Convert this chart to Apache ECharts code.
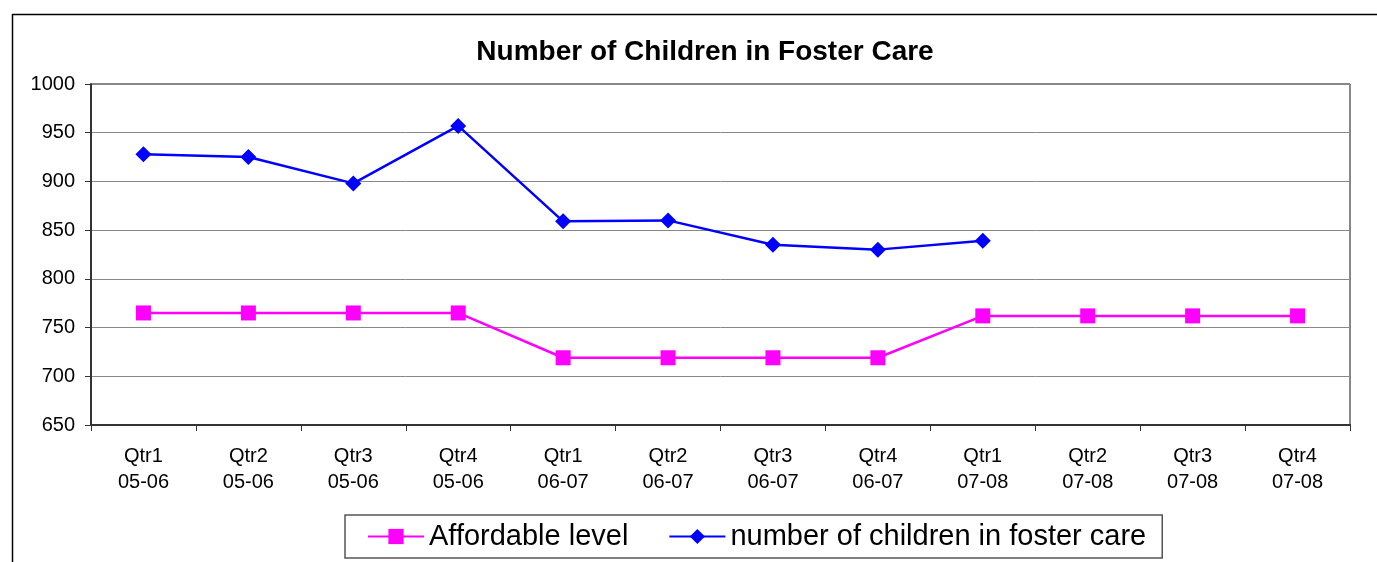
<!DOCTYPE html>
<html><head><meta charset="utf-8">
<script src="https://cdn.jsdelivr.net/npm/echarts@6/dist/echarts.min.js"></script>
<style>html,body{margin:0;padding:0;background:#fff}#c{width:1377px;height:562px}</style>
</head><body><div id="c"></div>
<script>
var categories = ['Qtr1\n05-06','Qtr2\n05-06','Qtr3\n05-06','Qtr4\n05-06','Qtr1\n06-07','Qtr2\n06-07','Qtr3\n06-07','Qtr4\n06-07','Qtr1\n07-08','Qtr2\n07-08','Qtr3\n07-08','Qtr4\n07-08'];
var affordable = [765,765,765,765,719,719,719,719,762,762,762,762];
var fosterCare = [928,925,898,957,859,860,835,830,839,null,null,null];
var chart = echarts.init(document.getElementById('c'));
var F = 'Liberation Sans, Arial, sans-serif';
chart.setOption({
  animation:false,
  textStyle:{fontFamily:F},
  title:{text:'Number of Children in Foster Care',left:700,textAlign:'center',top:33,
    textStyle:{fontFamily:F,fontSize:28,fontWeight:'bold',color:'#000'}},
  graphic:[
    {type:'line',shape:{x1:12,y1:14.5,x2:1377,y2:14.5},style:{stroke:'#000',lineWidth:1.5}},
    {type:'line',shape:{x1:12.5,y1:14,x2:12.5,y2:562},style:{stroke:'#000',lineWidth:1.5}},
    {type:'line',shape:{x1:91,y1:84,x2:1350,y2:84},style:{stroke:'#888',lineWidth:2}},
    {type:'line',shape:{x1:1350,y1:84,x2:1350,y2:425},style:{stroke:'#888',lineWidth:2}}
  ],
  grid:{left:91,top:84,right:27,bottom:137,containLabel:false},
  legend:{left:345,top:515,itemGap:40,padding:[7,16,7,22],
    borderColor:'#555',borderWidth:1.5,itemWidth:56,itemHeight:19,
    textStyle:{fontFamily:F,fontSize:29,color:'#000'},
    data:['Affordable level','number of children in foster care']},
  xAxis:{type:'category',data:categories,boundaryGap:true,
    axisLine:{lineStyle:{color:'#333',width:2}},
    axisTick:{show:true,length:6,lineStyle:{color:'#333',width:1}},
    axisLabel:{color:'#000',fontSize:20,fontFamily:F,margin:18,lineHeight:26,interval:0},
    splitLine:{show:false}},
  yAxis:{type:'value',min:650,max:1000,interval:50,
    axisLine:{show:true,lineStyle:{color:'#333',width:2}},
    axisTick:{show:true,length:6,lineStyle:{color:'#333'}},
    axisLabel:{color:'#000',fontSize:20,fontFamily:F,margin:16,formatter:function(v){return String(v);}},
    splitLine:{lineStyle:{color:'#888',width:1}}},
  series:[
    {name:'Affordable level',type:'line',data:affordable,symbol:'rect',symbolSize:15,
      itemStyle:{color:'#ff00ff'},lineStyle:{color:'#ff00ff',width:2.5}},
    {name:'number of children in foster care',type:'line',data:fosterCare,symbol:'diamond',symbolSize:16,
      itemStyle:{color:'#0000ff'},lineStyle:{color:'#0000ff',width:2.5}}
  ]
});
</script></body></html>
